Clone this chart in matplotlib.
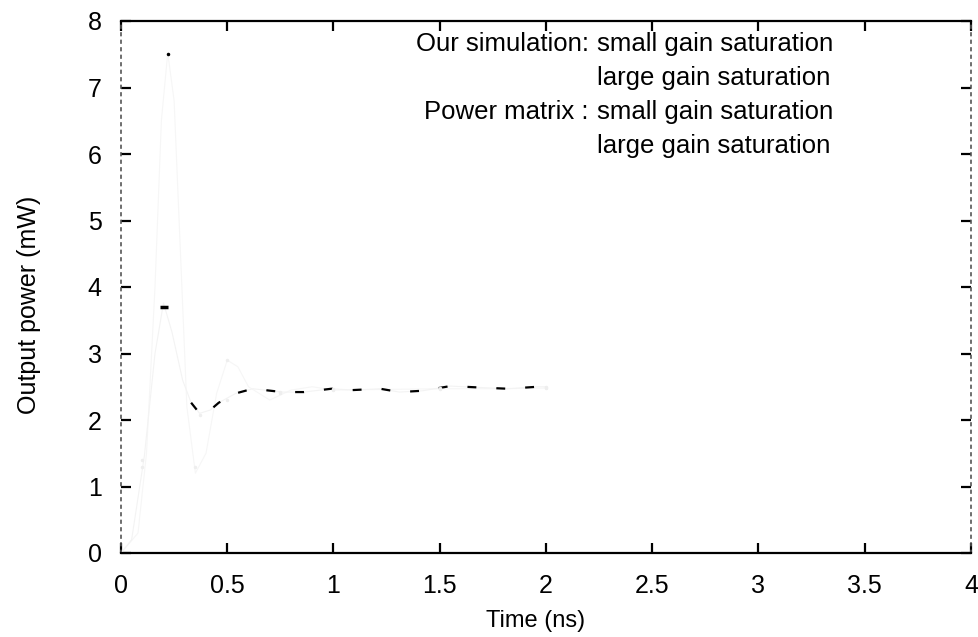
import matplotlib
matplotlib.use("Agg")
import matplotlib.pyplot as plt
import numpy as np

# ---- data ----
t_sim_large = [0.00, 0.05, 0.11, 0.16, 0.20, 0.24, 0.29, 0.33, 0.37, 0.42, 0.46, 0.54,
               0.62, 0.76, 0.86, 0.99, 1.09, 1.22, 1.31, 1.42, 1.55, 1.68, 1.82, 1.96, 2.00]
p_sim_large = [0.00, 0.20, 1.46, 3.00, 3.76, 3.32, 2.60, 2.26, 2.10, 2.15, 2.26, 2.40,
               2.47, 2.42, 2.42, 2.47, 2.45, 2.47, 2.42, 2.44, 2.51, 2.49, 2.47, 2.50, 2.50]

t_sim_small = [0.00, 0.08, 0.12, 0.16, 0.19, 0.22, 0.25, 0.28, 0.31, 0.35, 0.40, 0.45,
               0.50, 0.55, 0.60, 0.70, 0.80, 0.90, 1.00, 1.25, 1.50, 1.75, 2.00]
p_sim_small = [0.00, 0.30, 1.50, 4.00, 6.50, 7.52, 6.80, 4.50, 2.20, 1.20, 1.50, 2.40,
               2.90, 2.80, 2.50, 2.30, 2.45, 2.50, 2.45, 2.46, 2.47, 2.47, 2.48]

t_pm_small = [0.10, 0.22, 0.35, 0.50, 0.75, 1.00, 1.50, 2.00]
p_pm_small = [1.30, 7.50, 1.30, 2.90, 2.40, 2.45, 2.47, 2.48]

t_pm_large = [0.10, 0.20, 0.37, 0.50, 0.75, 1.00, 1.50, 2.00]
p_pm_large = [1.40, 3.70, 2.08, 2.30, 2.42, 2.46, 2.48, 2.50]

xticks = [0, 0.5, 1, 1.5, 2, 2.5, 3, 3.5, 4]
xticklabels = ["0", "0.5", "1", "1.5", "2", "2.5", "3", "3.5", "4"]
yticks = [0, 1, 2, 3, 4, 5, 6, 7, 8]

legend_heads = ["Our simulation:", "", "Power matrix :", ""]
legend_items = ["small gain saturation", "large gain saturation",
                "small gain saturation", "large gain saturation"]

# ---- figure ----
fig = plt.figure(figsize=(9.79, 6.37), dpi=100)
ax = fig.add_axes([121/979, 1 - 553/637, (971-121)/979, (553-21)/637])

regular = ["Liberation Sans", "DejaVu Sans"]

# faded (scanned) traces
ax.plot(t_sim_small, p_sim_small, color="#f6f6f6", lw=0.8)
ax.plot(t_sim_large, p_sim_large, color="#f3f3f3", lw=0.8)

# visible fragments of the large-gain-saturation trace
tl = np.array(t_sim_large)
pl = np.array(p_sim_large)
vis = tl >= 0.33
ax.plot(tl[vis], pl[vis], color="black", lw=1.6, linestyle=(0, (4, 9)))

# power-matrix points (mostly faded)
ax.plot(t_pm_small, p_pm_small, linestyle="none", marker=".", ms=3, color="#eeeeee")
ax.plot(t_pm_large, p_pm_large, linestyle="none", marker=".", ms=3, color="#eeeeee")
ax.plot([t_pm_small[1]], [p_pm_small[1]], linestyle="none", marker=".", ms=3, color="black")
ax.plot([t_pm_large[1]], [p_pm_large[1]], linestyle="none", marker="_", ms=6, mew=2.5,
        color="black")

ax.set_xlim(0, 4)
ax.set_ylim(0, 8)
ax.set_xticks(xticks)
ax.set_xticklabels(xticklabels, family=regular, fontsize=18)
ax.set_yticks(yticks)
ax.set_yticklabels([str(v) for v in yticks], family=regular, fontsize=18)
ax.tick_params(axis="both", direction="in", length=7, width=1.6,
               top=True, right=True, colors="black")
ax.tick_params(axis="x", pad=15)
ax.tick_params(axis="y", pad=14)

for s in ("top", "bottom"):
    ax.spines[s].set_linewidth(1.6)
for s in ("left", "right"):
    ax.spines[s].set_linewidth(1.2)
    ax.spines[s].set_linestyle((0, (1.5, 3)))
    ax.spines[s].set_color("#555555")

ax.set_xlabel("Time (ns)", family=regular, fontsize=17)
ax.xaxis.set_label_coords((536 - 121) / 850, -(610 - 553) / 532)
ax.set_ylabel("Output power (mW)", family=regular, fontsize=18)
ax.yaxis.set_label_coords(-(121 - 41) / 850, (553 - 305) / 532)

# legend text (handles faded in the original scan)
rows_y = [44, 78, 112, 146]
for head, item, yp in zip(legend_heads, legend_items, rows_y):
    yf = 1 - yp / 637
    if head:
        fig.text(589/979, yf, head, ha="right", va="center", family=regular, fontsize=18.5)
    fig.text(597/979, yf, item, ha="left", va="center", family=regular, fontsize=18.5)

fig.savefig("out.png", dpi=100, facecolor="white")
